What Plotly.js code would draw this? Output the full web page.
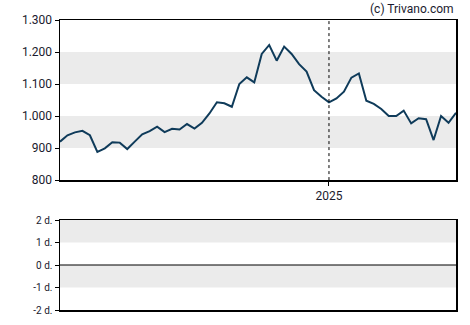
<!DOCTYPE html>
<html>
<head>
<meta charset="utf-8">
<script src="https://cdn.plot.ly/plotly-3.0.1.min.js"></script>
<style>html,body{margin:0;padding:0;background:#fff;}#chart{width:470px;height:325px;}</style>
</head>
<body>
<div id="chart"></div>
<script>
const dates = [
  "2024-04-24","2024-05-01","2024-05-08","2024-05-15","2024-05-22","2024-05-29",
  "2024-06-05","2024-06-12","2024-06-19","2024-06-26","2024-07-03","2024-07-10",
  "2024-07-17","2024-07-24","2024-07-31","2024-08-07","2024-08-14","2024-08-21",
  "2024-08-28","2024-09-04","2024-09-11","2024-09-18","2024-09-25","2024-10-02",
  "2024-10-09","2024-10-16","2024-10-23","2024-10-30","2024-11-06","2024-11-13",
  "2024-11-20","2024-11-27","2024-12-04","2024-12-11","2024-12-18","2024-12-25",
  "2025-01-01","2025-01-08","2025-01-15","2025-01-22","2025-01-29","2025-02-05",
  "2025-02-12","2025-02-19","2025-02-26","2025-03-05","2025-03-12","2025-03-19",
  "2025-03-26","2025-04-02","2025-04-09","2025-04-16","2025-04-23","2025-04-30"
];
const prices = [
  920, 940, 949, 954, 940, 888, 899, 918, 917, 897,
  920, 943, 953, 967, 950, 960, 958, 975, 961, 979,
  1008, 1043, 1040, 1029, 1100, 1121, 1105, 1194, 1222, 1173,
  1217, 1194, 1162, 1139, 1081, 1060, 1043, 1055, 1076, 1120,
  1133, 1048, 1038, 1022, 1000, 1000, 1017, 977, 993, 990,
  925, 1000, 979, 1010
];
const yTickVals = [800, 900, 1000, 1100, 1200, 1300];
const yTickText = ["800", "900", "1.000", "1.100", "1.200", "1.300"];
const yBands = [[900, 1000], [1100, 1200]];
const xTickVals = ["2025-01-01"];
const xTickText = ["2025"];
const y2TickVals = [-2, -1, 0, 1, 2];
const y2TickText = ["-2 d.", "-1 d.", "0 d.", "1 d.", "2 d."];
const y2Bands = [[1, 2], [-1, 0]];

const xRange = [dates[0], dates[dates.length - 1]];
const font = "Roboto, 'Liberation Sans', Arial, sans-serif";

const shapes = [];
yBands.forEach(b => shapes.push({type: "rect", xref: "x domain", yref: "y", x0: 0, x1: 1, y0: b[0], y1: b[1], fillcolor: "#ebebeb", line: {width: 0}, layer: "below"}));
y2Bands.forEach(b => shapes.push({type: "rect", xref: "x2 domain", yref: "y2", x0: 0, x1: 1, y0: b[0], y1: b[1], fillcolor: "#ebebeb", line: {width: 0}, layer: "below"}));
xTickVals.forEach(v => shapes.push({type: "line", xref: "x", yref: "y domain", x0: v, x1: v, y0: 0, y1: 1, line: {color: "#000", width: 1, dash: "dot"}}));
shapes.push({type: "line", xref: "x2 domain", yref: "y2", x0: 0, x1: 1, y0: 0, y1: 0, line: {color: "#000", width: 1.2}});

const data = [
  {x: dates, y: prices, type: "scatter", mode: "lines", line: {color: "#0f3b5a", width: 2}, xaxis: "x", yaxis: "y", hoverinfo: "skip"},
  {x: xRange, y: [null, null], type: "scatter", mode: "lines", xaxis: "x2", yaxis: "y2", hoverinfo: "skip"}
];

const layout = {
  width: 470, height: 325,
  margin: {l: 60, r: 14, t: 20, b: 15},
  paper_bgcolor: "#fff", plot_bgcolor: "rgba(0,0,0,0)",
  showlegend: false,
  font: {family: font, size: 12, color: "#1a1a2e"},
  xaxis: {type: "date", range: xRange, domain: [0, 1], showgrid: false, zeroline: false,
    tickvals: xTickVals, ticktext: xTickText, ticks: "outside", ticklen: 4, tickcolor: "#000",
    showline: true, linecolor: "#000", linewidth: 1.5, mirror: true, tickfont: {size: 12}},
  yaxis: {range: [800, 1300], domain: [0.448, 1], showgrid: false, zeroline: false,
    tickvals: yTickVals, ticktext: yTickText, ticks: "outside", ticklen: 4, tickcolor: "#000",
    showline: true, linecolor: "#000", linewidth: 1.5, mirror: true, tickfont: {size: 12}},
  xaxis2: {type: "date", range: xRange, anchor: "y2", showgrid: false, zeroline: false,
    showticklabels: false, ticks: "", showline: true, linecolor: "#000", linewidth: 1.5, mirror: true},
  yaxis2: {range: [-2, 2], domain: [0, 0.3103], anchor: "x2", showgrid: false, zeroline: false,
    tickvals: y2TickVals, ticktext: y2TickText, ticks: "outside", ticklen: 4, tickcolor: "#000",
    showline: true, linecolor: "#000", linewidth: 1.5, mirror: true, tickfont: {size: 10}},
  shapes: shapes,
  annotations: [{text: "(c) Trivano.com", xref: "paper", yref: "paper", x: 1, y: 1, yshift: 2,
    xanchor: "right", yanchor: "bottom", showarrow: false, font: {size: 12, color: "#1a1a2e"}}]
};

Plotly.newPlot("chart", data, layout, {staticPlot: true, displayModeBar: false});
</script>
</body>
</html>
